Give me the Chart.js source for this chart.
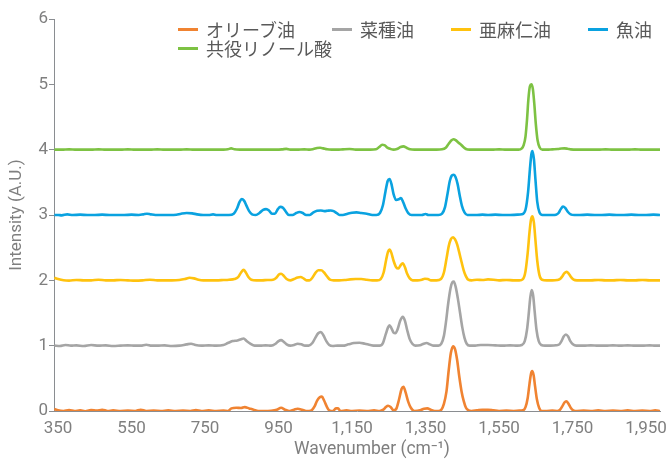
<!DOCTYPE html>
<html>
<head>
<meta charset="utf-8">
<script src="https://cdn.jsdelivr.net/npm/chart.js@4/dist/chart.umd.min.js"></script>
<style>
  html, body { margin: 0; padding: 0; background: #fff; }
  #wrap { position: relative; width: 672px; height: 461px; }
  #legend {
    position: absolute; left: 178px; top: 20px; width: 520px;
    display: flex; flex-wrap: wrap;
    font-family: "Noto Sans CJK JP", "Noto Sans", sans-serif;
    font-size: 18px; line-height: 19px; color: #595959;
  }
  .item { display: flex; align-items: center; margin-right: 37px; white-space: nowrap; }
  .swatch { width: 20px; height: 3px; margin-right: 8px; }
</style>
</head>
<body>
<div id="wrap">
  <canvas id="chart" width="672" height="461"></canvas>
  <div id="legend"></div>
</div>
<script>
// Raman spectra of edible oils, each trace stacked one unit above the previous.
const seriesNames = ['オリーブ油', '菜種油', '亜麻仁油', '魚油', '共役リノール酸'];

const wavenumberTicks = [350, 550, 750, 950, 1150, 1350, 1550, 1750, 1950];
const intensityTicks = [0, 1, 2, 3, 4, 5, 6];

// [wavenumber (cm-1), intensity (A.U.)]
const olive = [
  [340,0.03],[350,0.01],[365,0.0],[380,0.015],[395,0.0],[410,0.01],[425,-0.005],[440,0.015],[455,0.005],[470,0.02],
  [485,0.0],[500,0.01],[520,0.0],[540,0.005],[560,0.0],[575,0.02],[590,0.0],[610,0.005],[630,0.0],[650,0.01],
  [670,0.0],[690,0.005],[710,0.0],[725,0.015],[740,0.0],[760,0.01],[780,0.0],[800,0.005],[812,0.0],[822,0.04],
  [835,0.05],[848,0.045],[858,0.06],[870,0.04],[882,0.02],[895,0.0],[910,0.0],[930,0.005],[945,0.02],[957,0.05],
  [968,0.02],[980,0.0],[992,0.02],[1002,0.035],[1014,0.02],[1025,0.0],[1033,0.0],[1040,0.01],[1048,0.07],[1055,0.16],
  [1062,0.21],[1068,0.22],[1074,0.16],[1081,0.07],[1088,0.01],[1098,0.0],[1106,0.04],[1112,0.04],[1118,0.0],[1135,0.01],
  [1150,0.0],[1170,0.005],[1190,0.0],[1210,0.01],[1225,0.0],[1235,0.02],[1242,0.06],[1248,0.08],[1255,0.06],[1263,0.01],
  [1270,0.03],[1278,0.18],[1285,0.34],[1290,0.37],[1296,0.28],[1303,0.14],[1310,0.05],[1320,0.0],[1335,0.01],[1346,0.035],
  [1355,0.04],[1364,0.02],[1375,0.0],[1385,0.0],[1393,0.02],[1400,0.11],[1407,0.3],[1413,0.62],[1419,0.89],[1425,0.99],
  [1430,0.95],[1436,0.78],[1442,0.52],[1448,0.3],[1454,0.15],[1460,0.05],[1467,0.01],[1475,0.0],[1490,0.01],[1505,0.02],
  [1520,0.02],[1535,0.01],[1550,0.0],[1570,0.005],[1590,0.0],[1605,0.005],[1615,0.01],[1622,0.06],[1628,0.2],[1633,0.42],
  [1637,0.57],[1640,0.61],[1644,0.55],[1648,0.38],[1653,0.18],[1659,0.05],[1666,0.0],[1680,0.0],[1695,0.005],[1708,0.0],
  [1716,0.02],[1722,0.07],[1728,0.13],[1733,0.15],[1739,0.11],[1745,0.05],[1752,0.01],[1762,0.0],[1780,0.005],[1800,0.0],
  [1820,0.01],[1840,0.0],[1860,0.005],[1880,0.0],[1900,0.01],[1920,0.0],[1940,0.005],[1960,0.0],[1975,0.01],[1988,0.0]
];

const rapeseed = [
  [340,1.0],[355,0.995],[370,1.01],[385,1.0],[400,1.005],[420,0.995],[440,1.01],[460,1.0],[480,1.005],[500,0.995],
  [520,1.0],[540,1.005],[560,1.0],[575,1.0],[590,1.015],[605,1.0],[620,1.0],[640,1.005],[660,0.995],[680,1.0],
  [700,1.02],[712,1.03],[724,1.01],[740,1.0],[760,1.005],[780,1.0],[800,1.01],[812,1.04],[825,1.07],[838,1.08],
  [848,1.1],[855,1.11],[863,1.07],[873,1.03],[885,1.0],[900,1.0],[915,1.005],[930,1.0],[942,1.03],[950,1.07],
  [957,1.085],[964,1.06],[972,1.02],[982,1.0],[992,1.01],[1002,1.03],[1012,1.02],[1022,1.0],[1032,1.0],[1042,1.04],
  [1050,1.12],[1058,1.19],[1065,1.21],[1072,1.16],[1080,1.07],[1088,1.01],[1098,0.995],[1110,1.0],[1125,1.0],[1140,1.02],
  [1155,1.04],[1170,1.045],[1185,1.03],[1200,1.01],[1212,1.0],[1225,1.0],[1234,1.04],[1242,1.18],[1248,1.28],[1252,1.31],
  [1257,1.27],[1263,1.2],[1268,1.19],[1274,1.25],[1281,1.38],[1288,1.44],[1294,1.38],[1300,1.24],[1307,1.1],[1314,1.03],
  [1322,1.0],[1335,1.005],[1345,1.03],[1353,1.04],[1362,1.02],[1372,1.0],[1385,1.0],[1393,1.03],[1400,1.15],[1406,1.38],
  [1412,1.66],[1418,1.88],[1423,1.97],[1427,1.98],[1432,1.9],[1438,1.72],[1444,1.5],[1450,1.28],[1456,1.12],[1462,1.03],
  [1470,1.0],[1485,1.0],[1500,1.01],[1520,1.01],[1540,1.005],[1560,1.0],[1580,1.005],[1600,1.0],[1612,1.01],[1620,1.07],
  [1626,1.24],[1631,1.5],[1635,1.74],[1639,1.85],[1643,1.76],[1647,1.52],[1652,1.24],[1658,1.07],[1665,1.01],[1675,1.0],
  [1690,1.0],[1705,1.005],[1714,1.02],[1720,1.07],[1726,1.14],[1732,1.17],[1738,1.14],[1744,1.07],[1751,1.02],[1760,1.0],
  [1780,1.0],[1800,1.005],[1820,1.0],[1840,1.0],[1860,1.005],[1880,1.0],[1900,1.005],[1920,1.0],[1940,1.0],[1960,1.005],
  [1975,1.0],[1988,1.0]
];

const linseed = [
  [340,2.04],[350,2.02],[365,2.0],[380,1.995],[400,2.005],[420,2.0],[440,2.0],[460,2.01],[480,2.0],[500,2.0],
  [520,2.005],[540,2.0],[560,1.995],[580,2.0],[600,2.01],[620,2.0],[640,2.0],[660,2.0],[680,2.005],[695,2.02],
  [708,2.04],[720,2.03],[732,2.01],[745,2.0],[760,2.0],[780,2.0],[800,2.005],[815,2.01],[830,2.02],[840,2.05],
  [848,2.12],[855,2.16],[861,2.12],[868,2.05],[876,2.01],[890,2.0],[905,2.0],[920,2.005],[935,2.01],[944,2.04],
  [951,2.09],[957,2.1],[964,2.07],[972,2.02],[982,2.0],[992,2.02],[1002,2.045],[1010,2.05],[1018,2.03],[1026,2.0],
  [1034,2.0],[1042,2.04],[1050,2.11],[1058,2.155],[1066,2.155],[1074,2.12],[1082,2.06],[1090,2.01],[1100,2.0],[1115,2.0],
  [1130,2.005],[1145,2.015],[1160,2.02],[1175,2.02],[1190,2.01],[1205,2.0],[1218,2.0],[1228,2.02],[1236,2.12],[1243,2.32],
  [1248,2.44],[1252,2.47],[1257,2.42],[1263,2.3],[1270,2.2],[1276,2.18],[1282,2.23],[1288,2.26],[1294,2.2],[1300,2.1],
  [1307,2.03],[1315,2.0],[1328,2.0],[1340,2.01],[1348,2.025],[1356,2.02],[1365,2.0],[1380,2.0],[1392,2.02],[1400,2.12],
  [1407,2.33],[1413,2.52],[1419,2.63],[1425,2.66],[1430,2.63],[1436,2.55],[1442,2.42],[1448,2.28],[1454,2.15],[1460,2.06],
  [1466,2.01],[1475,2.0],[1490,2.01],[1505,2.005],[1520,2.015],[1535,2.01],[1550,2.0],[1570,2.005],[1590,2.0],[1605,2.0],
  [1615,2.02],[1622,2.14],[1628,2.42],[1633,2.74],[1637,2.93],[1641,2.98],[1645,2.88],[1649,2.62],[1654,2.3],[1660,2.08],
  [1667,2.01],[1680,2.0],[1695,2.0],[1708,2.005],[1716,2.02],[1722,2.06],[1728,2.11],[1734,2.13],[1740,2.1],[1746,2.05],
  [1753,2.01],[1762,2.0],[1780,2.0],[1800,2.0],[1820,2.005],[1840,2.0],[1860,2.0],[1880,2.005],[1900,2.0],[1920,2.0],
  [1940,2.005],[1960,2.0],[1975,2.0],[1988,2.0]
];

const fishOil = [
  [340,3.0],[350,3.0],[360,2.995],[375,3.01],[390,3.0],[410,3.005],[430,3.0],[450,3.0],[470,3.005],[490,3.0],
  [510,3.0],[530,3.0],[550,3.005],[570,3.0],[582,3.01],[592,3.02],[602,3.01],[615,3.0],[635,3.0],[655,3.0],
  [672,3.005],[685,3.02],[700,3.03],[715,3.025],[728,3.01],[745,3.0],[760,3.0],[772,3.01],[782,3.0],[800,3.0],
  [815,3.0],[828,3.02],[837,3.1],[844,3.2],[850,3.245],[856,3.22],[863,3.14],[870,3.06],[878,3.01],[888,3.0],
  [898,3.03],[908,3.08],[916,3.09],[924,3.07],[932,3.02],[940,3.02],[948,3.09],[955,3.125],[962,3.11],[970,3.05],
  [978,3.0],[988,3.0],[998,3.03],[1007,3.045],[1016,3.03],[1025,3.0],[1035,3.0],[1045,3.04],[1055,3.065],[1065,3.07],
  [1075,3.06],[1083,3.065],[1092,3.07],[1100,3.06],[1108,3.03],[1116,3.0],[1125,3.0],[1138,3.02],[1150,3.035],[1162,3.04],
  [1175,3.03],[1190,3.02],[1205,3.0],[1216,3.0],[1226,3.03],[1234,3.15],[1241,3.36],[1247,3.52],[1252,3.55],[1257,3.48],
  [1263,3.32],[1270,3.23],[1277,3.24],[1283,3.26],[1289,3.2],[1296,3.1],[1303,3.03],[1312,3.0],[1325,3.0],[1340,3.0],
  [1350,3.015],[1358,3.0],[1370,3.0],[1385,3.0],[1395,3.02],[1403,3.12],[1410,3.33],[1416,3.52],[1421,3.6],[1426,3.615],
  [1431,3.59],[1437,3.48],[1443,3.3],[1449,3.14],[1456,3.04],[1464,3.0],[1475,3.0],[1490,3.0],[1505,3.005],[1520,3.0],
  [1540,3.005],[1560,3.0],[1580,3.0],[1600,3.005],[1612,3.01],[1622,3.08],[1629,3.35],[1634,3.7],[1638,3.93],[1641,3.98],
  [1645,3.85],[1649,3.55],[1654,3.2],[1660,3.04],[1668,3.0],[1680,3.0],[1695,3.0],[1705,3.005],[1712,3.03],[1718,3.09],
  [1724,3.13],[1730,3.11],[1737,3.05],[1745,3.01],[1755,3.0],[1770,3.0],[1790,3.005],[1810,3.0],[1830,3.0],[1850,3.005],
  [1870,3.0],[1890,3.0],[1910,3.005],[1930,3.0],[1950,3.0],[1970,3.005],[1988,3.0]
];

const cla = [
  [340,4.0],[360,4.0],[380,4.005],[400,4.0],[420,4.0],[440,4.0],[460,4.005],[480,4.0],[500,4.0],[520,4.0],
  [540,4.005],[560,4.0],[580,4.0],[600,4.0],[620,4.005],[640,4.0],[660,4.0],[680,4.0],[700,4.005],[720,4.0],
  [740,4.0],[760,4.0],[780,4.0],[800,4.0],[812,4.005],[821,4.02],[830,4.005],[845,4.0],[865,4.0],[885,4.0],
  [905,4.0],[925,4.0],[945,4.0],[960,4.005],[971,4.012],[982,4.0],[1000,4.0],[1020,4.005],[1035,4.0],[1045,4.01],
  [1055,4.025],[1063,4.03],[1072,4.02],[1082,4.005],[1095,4.0],[1110,4.0],[1125,4.005],[1143,4.01],[1160,4.0],[1180,4.0],
  [1200,4.0],[1215,4.005],[1224,4.04],[1232,4.075],[1238,4.07],[1246,4.03],[1255,4.01],[1263,4.0],[1272,4.01],[1282,4.04],
  [1290,4.05],[1298,4.03],[1308,4.005],[1320,4.0],[1340,4.0],[1360,4.0],[1380,4.0],[1395,4.005],[1405,4.03],[1413,4.09],
  [1420,4.14],[1426,4.16],[1432,4.145],[1439,4.11],[1446,4.08],[1453,4.04],[1460,4.01],[1470,4.0],[1490,4.0],[1510,4.0],
  [1530,4.0],[1550,4.005],[1570,4.0],[1590,4.0],[1603,4.0],[1612,4.02],[1617,4.07],[1622,4.2],[1626,4.45],[1630,4.78],
  [1634,4.97],[1638,5.0],[1642,4.93],[1646,4.7],[1650,4.4],[1655,4.14],[1661,4.03],[1668,4.0],[1680,4.0],[1695,4.005],
  [1710,4.01],[1720,4.018],[1728,4.02],[1736,4.015],[1745,4.005],[1760,4.0],[1780,4.0],[1800,4.0],[1820,4.0],[1840,4.005],
  [1860,4.0],[1880,4.0],[1900,4.0],[1920,4.005],[1940,4.0],[1960,4.0],[1975,4.0],[1988,4.0]
];

const spectra = [olive, rapeseed, linseed, fishOil, cla];
const lineColors = ['#F08331', '#A5A5A5', '#FFC20E', '#0AA2E0', '#7DC243'];

const axisGray = '#8a8d91';
const textGray = '#7f7f7f';
const xTitle = 'Wavenumber (cm⁻¹)';

Chart.defaults.font.family = 'Roboto, "Noto Sans", sans-serif';

// Draws the wavenumber title below the tick labels, a little right of the plot centre.
const xTitlePlugin = {
  id: 'xTitle',
  afterDraw(chart) {
    const { ctx, chartArea } = chart;
    ctx.save();
    ctx.font = '17.5px Roboto, "Noto Sans", sans-serif';
    ctx.fillStyle = textGray;
    ctx.textAlign = 'center';
    ctx.textBaseline = 'middle';
    ctx.fillText(xTitle, (chartArea.left + chartArea.right) / 2 + 15, chart.height - 11);
    ctx.restore();
  }
};

const datasets = spectra.map((points, i) => ({
  label: seriesNames[i],
  data: points.map(([x, y]) => ({ x, y })),
  borderColor: lineColors[i],
  backgroundColor: lineColors[i],
  borderWidth: 2.6,
  pointRadius: 0,
  fill: false,
  cubicInterpolationMode: 'monotone'
}));

new Chart(document.getElementById('chart'), {
  type: 'line',
  data: { datasets },
  plugins: [xTitlePlugin],
  options: {
    responsive: false,
    animation: false,
    devicePixelRatio: 1,
    layout: { padding: { top: 19, right: 12, left: 0, bottom: 0 } },
    plugins: { legend: { display: false }, tooltip: { enabled: false } },
    scales: {
      x: {
        type: 'linear',
        min: 339,
        max: 1988,
        afterBuildTicks: (scale) => { scale.ticks = wavenumberTicks.map(v => ({ value: v })); },
        afterFit: (scale) => {
          scale.height = 50;
          // end labels may hang past the plot edges; keep the plot width fixed
          scale.paddingLeft = 0;
          scale.paddingRight = 0;
        },
        grid: { display: false, drawTicks: false },
        border: { display: true, color: axisGray, width: 1 },
        ticks: {
          autoSkip: false, maxRotation: 0, padding: 8,
          color: textGray, font: { size: 17 },
          callback: (v) => Number(v).toLocaleString('en-US')
        },
        title: { display: false }
      },
      y: {
        min: 0,
        max: 6,
        afterBuildTicks: (scale) => { scale.ticks = intensityTicks.map(v => ({ value: v })); },
        afterFit: (scale) => { scale.width = 54; },
        grid: { drawOnChartArea: false, drawTicks: true, tickLength: 5, color: axisGray },
        border: { display: true, color: axisGray, width: 1 },
        ticks: { padding: 1, color: textGray, font: { size: 17 } },
        title: {
          display: true, text: 'Intensity (A.U.)',
          color: textGray, font: { size: 17 }, padding: { top: 7, bottom: 0 }
        }
      }
    }
  }
});

// Legend: one short coloured line and name per trace.
const legendEl = document.getElementById('legend');
seriesNames.forEach((name, i) => {
  const item = document.createElement('div');
  item.className = 'item';
  const sw = document.createElement('span');
  sw.className = 'swatch';
  sw.style.background = lineColors[i];
  const label = document.createElement('span');
  label.textContent = name;
  item.appendChild(sw);
  item.appendChild(label);
  legendEl.appendChild(item);
});
</script>
</body>
</html>
